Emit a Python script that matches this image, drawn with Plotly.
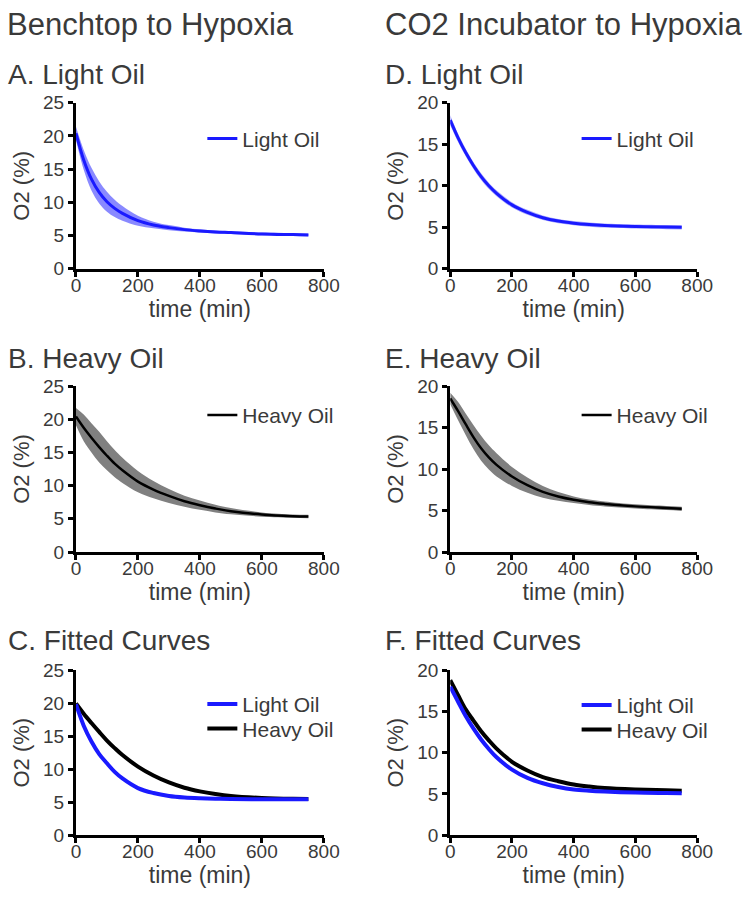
import plotly.graph_objects as go

# ---------------- data ----------------
t_grid = [0, 25, 50, 75, 100, 125, 150, 200, 250, 300, 350, 400, 450, 500, 600, 700, 750]

# A. Benchtop, light oil (mean +/- error band)
A_mean = [20.4, 16.4, 13.5, 11.5, 10.1, 9.1, 8.35, 7.25, 6.6, 6.2, 5.9, 5.7, 5.55, 5.45, 5.25, 5.15, 5.1]
A_err = [1.0, 1.5, 1.7, 1.65, 1.5, 1.3, 1.1, 0.75, 0.5, 0.38, 0.3, 0.25, 0.22, 0.2, 0.2, 0.2, 0.2]

# B. Benchtop, heavy oil
B_mean = [20.4, 18.7, 17.2, 15.8, 14.5, 13.3, 12.3, 10.6, 9.4, 8.45, 7.65, 7.05, 6.55, 6.15, 5.65, 5.4, 5.35]
B_err = [1.3, 2.0, 2.2, 2.3, 2.2, 2.05, 1.9, 1.6, 1.3, 1.05, 0.82, 0.7, 0.58, 0.47, 0.32, 0.25, 0.25]

# C. Benchtop, fitted curves
C_light = [19.85, 16.6, 14.2, 12.3, 10.9, 9.6, 8.6, 7.15, 6.4, 5.95, 5.72, 5.6, 5.53, 5.5, 5.46, 5.45, 5.45]
C_heavy = [19.95, 18.4, 17.0, 15.65, 14.35, 13.2, 12.15, 10.4, 9.05, 8.0, 7.2, 6.65, 6.25, 5.95, 5.65, 5.52, 5.5]

# D. CO2 incubator, light oil
D_mean = [17.9, 15.8, 14.0, 12.45, 11.1, 10.0, 9.1, 7.7, 6.8, 6.15, 5.75, 5.5, 5.33, 5.22, 5.1, 5.03, 5.0]
D_err = [0.6, 0.5, 0.45, 0.42, 0.4, 0.38, 0.35, 0.32, 0.3, 0.28, 0.26, 0.25, 0.25, 0.25, 0.25, 0.25, 0.25]

# E. CO2 incubator, heavy oil
E_mean = [18.5, 17.0, 15.4, 13.85, 12.5, 11.4, 10.5, 9.1, 8.05, 7.25, 6.7, 6.3, 6.0, 5.8, 5.5, 5.3, 5.2]
E_err = [0.7, 1.1, 1.3, 1.45, 1.5, 1.45, 1.4, 1.15, 0.92, 0.7, 0.52, 0.4, 0.34, 0.3, 0.25, 0.25, 0.25]

# F. CO2 incubator, fitted curves
F_light = [18.0, 16.2, 14.45, 12.95, 11.6, 10.45, 9.45, 7.95, 6.95, 6.3, 5.85, 5.55, 5.4, 5.3, 5.17, 5.12, 5.1]
F_heavy = [18.8, 17.0, 15.25, 13.9, 12.6, 11.5, 10.5, 8.9, 7.85, 7.05, 6.55, 6.15, 5.9, 5.72, 5.55, 5.45, 5.4]

column_titles = ["Benchtop to Hypoxia", "CO2 Incubator to Hypoxia"]
panel_titles = ["A. Light Oil", "B. Heavy Oil", "C. Fitted Curves",
                "D. Light Oil", "E. Heavy Oil", "F. Fitted Curves"]
x_ticks = [0, 200, 400, 600, 800]
y_ticks_left = [0, 5, 10, 15, 20, 25]
y_ticks_right = [0, 5, 10, 15, 20]

# ---------------- styling ----------------
W, H = 754, 899
FONT = "Liberation Sans, Arial, Helvetica, sans-serif"
TXT = "#3a3a3a"
BLUE = "#1a1aff"
BLUE_BAND = "rgba(40,40,255,0.55)"
BLUE_BAND_D = "rgba(60,60,255,0.45)"
GREY_BAND = "rgb(128,128,128)"
SPL = dict(shape="spline", smoothing=1.0)


def xdom(a, b):
    return [a / W, b / W]


def ydom(top, bot):
    return [1 - bot / H, 1 - top / H]


cols = {0: (73, 328), 1: (458, 712)}
rows = {0: (95, 265), 1: (385, 555), 2: (676, 845)}

fig = go.Figure()

panel_axes = {}
n = 0
for c in range(2):
    for r in range(3):
        n += 1
        panel_axes[(c, r)] = n


def axnames(n):
    return ("x" if n == 1 else f"x{n}", "y" if n == 1 else f"y{n}")


def add_band(n, t, mean, err, band_color, line_color, line_w, name, legend):
    xa, ya = axnames(n)
    upper = [m + e for m, e in zip(mean, err)]
    lower = [m - e for m, e in zip(mean, err)]
    fig.add_trace(go.Scatter(x=t, y=upper, mode="lines", line=dict(width=0, **SPL),
                             showlegend=False, hoverinfo="skip", xaxis=xa, yaxis=ya))
    fig.add_trace(go.Scatter(x=t, y=lower, mode="lines", line=dict(width=0, **SPL),
                             fill="tonexty", fillcolor=band_color, showlegend=False, hoverinfo="skip",
                             xaxis=xa, yaxis=ya))
    fig.add_trace(go.Scatter(x=t, y=mean, mode="lines", name=name,
                             line=dict(color=line_color, width=line_w, **SPL),
                             xaxis=xa, yaxis=ya, legend=legend))


def add_line(n, t, y, color, width, name, legend):
    xa, ya = axnames(n)
    fig.add_trace(go.Scatter(x=t, y=y, mode="lines", name=name,
                             line=dict(color=color, width=width, **SPL),
                             xaxis=xa, yaxis=ya, legend=legend))


add_band(panel_axes[(0, 0)], t_grid, A_mean, A_err, BLUE_BAND, BLUE, 3, "Light Oil", "legend")
add_band(panel_axes[(0, 1)], t_grid, B_mean, B_err, GREY_BAND, "black", 2.5, "Heavy Oil", "legend3")
add_line(panel_axes[(0, 2)], t_grid, C_heavy, "black", 4, "Heavy Oil", "legend6")
add_line(panel_axes[(0, 2)], t_grid, C_light, BLUE, 4, "Light Oil", "legend5")
add_band(panel_axes[(1, 0)], t_grid, D_mean, D_err, BLUE_BAND_D, BLUE, 3, "Light Oil", "legend2")
add_band(panel_axes[(1, 1)], t_grid, E_mean, E_err, GREY_BAND, "black", 2.5, "Heavy Oil", "legend4")
add_line(panel_axes[(1, 2)], t_grid, F_heavy, "black", 4, "Heavy Oil", "legend8")
add_line(panel_axes[(1, 2)], t_grid, F_light, BLUE, 4, "Light Oil", "legend7")

layout = dict(
    width=W, height=H, margin=dict(l=0, r=0, t=0, b=0),
    paper_bgcolor="white", plot_bgcolor="white",
    font=dict(family=FONT, color=TXT),
)

for (c, r), n in panel_axes.items():
    xk = "xaxis" if n == 1 else f"xaxis{n}"
    yk = "yaxis" if n == 1 else f"yaxis{n}"
    ya_anchor = "y" if n == 1 else f"y{n}"
    xa_anchor = "x" if n == 1 else f"x{n}"
    ymax = 25 if c == 0 else 20
    yt = y_ticks_left if c == 0 else y_ticks_right
    layout[xk] = dict(domain=xdom(*cols[c]), anchor=ya_anchor, range=[0, 800],
                      tickvals=x_ticks, ticktext=[str(v) for v in x_ticks],
                      showline=True, linewidth=3, linecolor="black",
                      ticks="outside", ticklen=5, tickwidth=2.5, tickcolor="black",
                      ticklabelstandoff=-8,
                      showgrid=False, zeroline=False,
                      tickfont=dict(size=19, color=TXT, family=FONT),
                      title=dict(text="time (min)", font=dict(size=23, color=TXT, family=FONT), standoff=0))
    layout[yk] = dict(domain=ydom(*rows[r]), anchor=xa_anchor, range=[0, ymax],
                      tickvals=yt, ticktext=[str(v) for v in yt],
                      showline=True, linewidth=3, linecolor="black",
                      ticks="outside", ticklen=5, tickwidth=2.5, tickcolor="black",
                      showgrid=False, zeroline=False,
                      tickfont=dict(size=19, color=TXT, family=FONT),
                      title=dict(text="O2 (%)", font=dict(size=22, color=TXT, family=FONT), standoff=8))

# legends: (name, text-start px, center-y px)
legend_pos = {
    "legend": (245, 132), "legend2": (630, 132),
    "legend3": (245, 415), "legend4": (630, 415),
    "legend5": (245, 711), "legend6": (245, 736),
    "legend7": (630, 712), "legend8": (630, 737),
}
for name, (xs, yc) in legend_pos.items():
    layout[name] = dict(x=(xs - 42) / W, y=1 - yc / H, xanchor="left", yanchor="middle",
                        bgcolor="rgba(0,0,0,0)", borderwidth=0,
                        font=dict(size=21, color=TXT, family=FONT))

fig.update_layout(**layout)

annotations = []
for text, x0 in zip(column_titles, [0, 389]):
    annotations.append(dict(text=text, x=x0 / W, y=1 - 14.5 / H, xref="paper", yref="paper",
                            xanchor="left", yanchor="middle", showarrow=False,
                            font=dict(size=31, color=TXT, family=FONT)))
title_y = [66, 357, 646]
for i, text in enumerate(panel_titles):
    c, r = divmod(i, 3)
    x0 = 1 if c == 0 else 389
    annotations.append(dict(text=text, x=x0 / W, y=1 - title_y[r] / H, xref="paper", yref="paper",
                            xanchor="left", yanchor="middle", showarrow=False,
                            font=dict(size=28, color=TXT, family=FONT)))
fig.update_layout(annotations=annotations)

fig.write_html("out.html")
